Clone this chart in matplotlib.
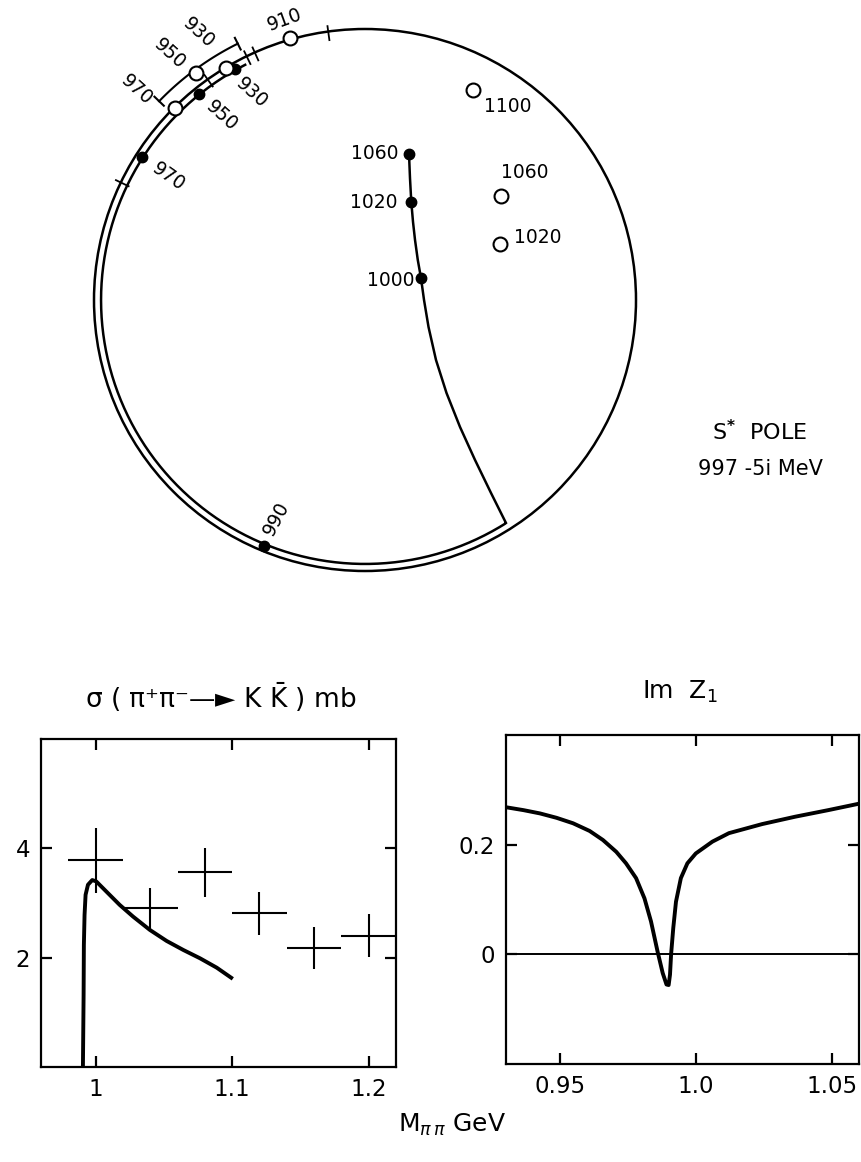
import matplotlib
matplotlib.use("Agg")
from matplotlib import pyplot as plt
from matplotlib.patches import Circle
import numpy as np

plt.rcParams['font.family'] = 'DejaVu Sans'
plt.rcParams['mathtext.fontset'] = 'dejavusans'

# Argand plane: solution points (filled), energies in MeV
fit_mev = [930, 950, 970, 990, 1000, 1020, 1060]
fit_re = [-0.240, -0.306, -0.411, -0.186, 0.1033, 0.0854, 0.0812]
fit_im = [0.926, 0.880, 0.764, 0.046, 0.5406, 0.6808, 0.7694]

# Argand plane: phase-shift analysis points (open)
data_mev = [910, 930, 950, 970, 1020, 1060, 1100]
data_re = [-0.138, -0.256, -0.312, -0.351, 0.249, 0.251, 0.199]
data_im = [0.983, 0.928, 0.919, 0.854, 0.603, 0.692, 0.887]

# amplitude path leaving the circle above KKbar threshold
path_re = [0.2601, 0.2325, 0.2030, 0.1753, 0.1504, 0.1310, 0.1172, 0.1089,
           0.1033, 0.0974, 0.0923, 0.0886, 0.0854, 0.0830, 0.0812]
path_im = [0.0886, 0.1439, 0.2048, 0.2657, 0.3284, 0.3893, 0.4502, 0.5,
           0.5406, 0.5738, 0.6107, 0.6439, 0.6808, 0.7251, 0.7694]

# sigma(pi+ pi- -> K Kbar) in mb
xs_m = [1.00, 1.04, 1.08, 1.12, 1.16, 1.20]
xs_val = [3.78, 2.90, 3.56, 2.81, 2.18, 2.40]
xs_err = [0.59, 0.38, 0.45, 0.39, 0.39, 0.39]
xs_bin = 0.02
xs_fit_m = [0.9907, 0.9912, 0.9914, 0.9919, 0.99265, 0.9944, 0.99755,
            1.0005, 1.0078, 1.0176, 1.0274, 1.0397, 1.052, 1.0642, 1.0765,
            1.0887, 1.0993]
xs_fit = [0.0, 1.315, 2.233, 2.783, 3.15, 3.334, 3.42, 3.394, 3.211, 2.966,
          2.752, 2.508, 2.306, 2.141, 1.988, 1.817, 1.633]

# Im Z1
imz_m = [0.9303, 0.9364, 0.9425, 0.9486, 0.9547, 0.9608, 0.9657, 0.9706,
         0.9742, 0.9779, 0.9810, 0.9834, 0.9858, 0.9877, 0.9891, 0.9899,
         0.9904, 0.9908, 0.9916, 0.9926, 0.9944, 0.9968, 0.9999, 1.006,
         1.0121, 1.0243, 1.0365, 1.0487, 1.0593]
imz = [0.268, 0.263, 0.257, 0.249, 0.239, 0.225, 0.2085, 0.187, 0.166,
       0.139, 0.102, 0.060, 0.0055, -0.034, -0.055, -0.056, -0.037, 0.000,
       0.048, 0.096, 0.139, 0.166, 0.184, 0.2055, 0.221, 0.2375, 0.251,
       0.263, 0.274]

W, H = 862, 1162
fig = plt.figure(figsize=(W / 100, H / 100), dpi=100)

# ---- Argand diagram ----
ax = fig.add_axes([0, 1 - 600 / H, 1, 600 / H])
ax.set_xlim(-365 / 542, 497 / 542)
ax.set_ylim(0.5 - 300 / 542, 0.5 + 300 / 542)
ax.axis('off')

lw_c = 1.8
ax.add_patch(Circle((0, 0.5), 0.5, fill=False, ec='k', lw=lw_c))

# inner track along the circle, then into the interior
r_in = 0.487
t_in = np.radians(np.linspace(117, 302, 400))
track_re = np.concatenate([r_in * np.cos(t_in), path_re])
track_im = np.concatenate([0.5 + r_in * np.sin(t_in), path_im])
ax.plot(track_re, track_im, color='k', lw=lw_c, solid_joinstyle='miter')

# short marks across the circle
for a in [97.8, 114.0, 115.9, 125.5, 154.3]:
    ar = np.radians(a)
    rr = np.array([0.484, 0.510])
    ax.plot(rr * np.cos(ar), 0.5 + rr * np.sin(ar), color='k', lw=1.3)

# bracket just outside the circle
r_br = 0.528
t_br = np.radians(np.linspace(116.4, 136.0, 60))
ax.plot(r_br * np.cos(t_br), 0.5 + r_br * np.sin(t_br), color='k', lw=1.5)
for a in [116.4, 136.0]:
    ar = np.radians(a)
    rr = np.array([r_br - 0.012, r_br + 0.012])
    ax.plot(rr * np.cos(ar), 0.5 + rr * np.sin(ar), color='k', lw=1.5)

ax.plot(fit_re, fit_im, 'o', ms=7.5, color='k', zorder=5)
ax.plot(data_re, data_im, 'o', ms=10, mfc='white', mec='k', mew=1.5, zorder=5)

lab_fs = 13.5
fit_lab = [(12, -17, -42), (16.5, -16, -42), (19, -14, -35), (9, 20, 62),
           (-22, -1.5, 0), (-27, 0, 0), (-25, 0, 0)]
for m, x, y, (dx, dy, rot) in zip(fit_mev, fit_re, fit_im, fit_lab):
    ax.annotate(str(m), (x, y), xytext=(dx, dy), textcoords='offset points',
                ha='center', va='center', rotation=rot, fontsize=lab_fs)
data_lab = [(-4, 13, 20), (-20, 25, -42), (-19, 14, -42), (-27, 13, -42),
            (27, 5, 0), (17, 17, 0), (25, -12, 0)]
for m, x, y, (dx, dy, rot) in zip(data_mev, data_re, data_im, data_lab):
    ax.annotate(str(m), (x, y), xytext=(dx, dy), textcoords='offset points',
                ha='center', va='center', rotation=rot, fontsize=lab_fs)

fig.text(760 / W, 1 - 432 / H, r'S$^{\mathbf{*}}$  POLE', ha='center',
         va='center', fontsize=16)
fig.text(760 / W, 1 - 469 / H, '997 -5i MeV', ha='center', va='center', fontsize=15)


def style(a):
    for s in a.spines.values():
        s.set_linewidth(1.6)
    a.tick_params(direction='in', top=True, right=True, length=8, width=1.6,
                  labelsize=16.5, pad=8)


# ---- cross section ----
ax1 = fig.add_axes([41 / W, 1 - 1067 / H, 355 / W, 328 / H])
ax1.errorbar(xs_m, xs_val, xerr=xs_bin, yerr=xs_err, fmt='none', ecolor='k',
             elinewidth=1.5, capsize=0)
ax1.plot(xs_fit_m, xs_fit, color='k', lw=2.8)
ax1.set_xlim(0.96, 1.22)
ax1.set_ylim(0, 6)
ax1.set_xticks([1.0, 1.1, 1.2])
ax1.set_xticklabels(['1', '1.1', '1.2'])
ax1.set_yticks([2, 4])
ax1.set_yticklabels(['2', '4'])
style(ax1)
fig.text(221 / W, 1 - 697 / H, u'σ ( π⁺π⁻—► K $\\bar{\\mathrm{K}}$ ) mb',
         ha='center', va='center', fontsize=19)

# ---- Im Z1 ----
ax2 = fig.add_axes([506 / W, 1 - 1064 / H, 353 / W, 329 / H])
ax2.axhline(0, color='k', lw=1.4)
ax2.plot(imz_m, imz, color='k', lw=2.8)
ax2.set_xlim(0.93, 1.06)
ax2.set_ylim(-0.2, 0.4)
ax2.set_xticks([0.95, 1.0, 1.05])
ax2.set_xticklabels(['0.95', '1.0', '1.05'])
ax2.set_yticks([0, 0.2])
ax2.set_yticklabels(['0', '0.2'])
style(ax2)
fig.text(680 / W, 1 - 692 / H, r'Im  Z$_1$', ha='center', va='center', fontsize=18)

fig.text(452 / W, 1 - 1125 / H, r'M$_{\pi\,\pi}$ GeV', ha='center', va='center',
         fontsize=18)

fig.savefig('out.png', dpi=100)
